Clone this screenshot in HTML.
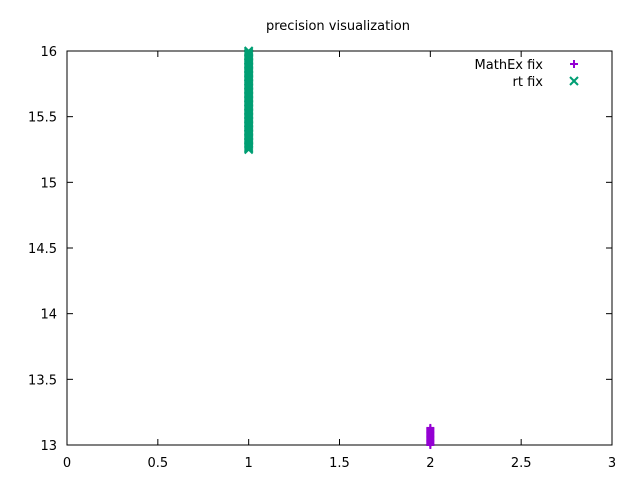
<!DOCTYPE html>
<html><head><meta charset="utf-8"><style>
body{margin:0;background:#fff;}
svg{display:block;font-family:"DejaVu Sans","Liberation Sans",sans-serif;font-size:13px;}
</style></head><body>
<svg id="chart" width="640" height="480" viewBox="0 0 640 480"></svg>
<script>
const xTicks=[0,0.5,1,1.5,2,2.5,3];
const yTicks=[13,13.5,14,14.5,15,15.5,16];
const mathexX=[2,2,2,2,2,2,2,2,2,2,2,2,2,2];
const mathexY=[13.0,13.01,13.02,13.03,13.04,13.05,13.06,13.07,13.08,13.09,13.1,13.11,13.12,13.13];
const rtY=[15.25,15.26,15.27,15.28,15.29,15.3,15.31,15.32,15.33,15.34,15.35,15.36,15.37,15.38,15.39,15.4,15.41,15.42,15.43,15.44,15.45,15.46,15.47,15.48,15.49,15.5,15.51,15.52,15.53,15.54,15.55,15.56,15.57,15.58,15.59,15.6,15.61,15.62,15.63,15.64,15.65,15.66,15.67,15.68,15.69,15.7,15.71,15.72,15.73,15.74,15.75,15.76,15.77,15.78,15.79,15.8,15.81,15.82,15.83,15.84,15.85,15.86,15.87,15.88,15.89,15.9,15.91,15.92,15.93,15.94,15.95,15.96,15.97,15.98,15.99,16.0];
const rtX=rtY.map(()=>1);
const L=67,R=612,T=51,B=445;
const sx=v=>L+(v-0)/(3-0)*(R-L);
const sy=v=>B-(v-13)/(16-13)*(B-T);
const svg=document.getElementById('chart');
const NS='http://www.w3.org/2000/svg';
function mk(tag,attrs,parent){const e=document.createElementNS(NS,tag);for(const k in attrs)e.setAttribute(k,attrs[k]);(parent||svg).appendChild(e);return e;}
let t=mk('text',{x:338,y:30,'text-anchor':'middle'});t.textContent='precision visualization';


xTicks.forEach(v=>{const x=sx(v);
 mk('line',{x1:x,y1:B,x2:x,y2:B-6,stroke:'#000'});mk('line',{x1:x,y1:T,x2:x,y2:T+6,stroke:'#000'});
 const tx=mk('text',{x:x,y:467,'text-anchor':'middle'});tx.textContent=v;
 
 });
yTicks.forEach(v=>{const y=sy(v);
 mk('line',{x1:L,y1:y,x2:L+6,y2:y,stroke:'#000'});mk('line',{x1:R,y1:y,x2:R-6,y2:y,stroke:'#000'});
 const tx=mk('text',{x:57,y:y+5,'text-anchor':'end'});tx.textContent=v;
 
 });
const frame=mk('rect',{x:L,y:T,width:R-L,height:B-T,fill:'none',stroke:'#000'});


const g1=mk('g',{stroke:'#9400d3','stroke-width':2});


mathexY.forEach((v,i)=>{const x=sx(mathexX[i]),y=sy(v);
 mk('line',{x1:x-4,y1:y,x2:x+4,y2:y},g1);mk('line',{x1:x,y1:y-4,x2:x,y2:y+4},g1);});
const g2=mk('g',{stroke:'#009e73','stroke-width':2});


rtY.forEach((v,i)=>{const x=sx(rtX[i]),y=sy(v);
 mk('line',{x1:x-4,y1:y-4,x2:x+4,y2:y+4},g2);mk('line',{x1:x-4,y1:y+4,x2:x+4,y2:y-4},g2);});
const lg=mk('g',{});


let l1=mk('text',{x:543,y:69,'text-anchor':'end'},lg);l1.textContent='MathEx fix';
const p=mk('g',{stroke:'#9400d3','stroke-width':2},lg);
mk('line',{x1:570,y1:64,x2:578,y2:64},p);mk('line',{x1:574,y1:60,x2:574,y2:68},p);
let l2=mk('text',{x:543,y:86,'text-anchor':'end'},lg);l2.textContent='rt fix';
const c=mk('g',{stroke:'#009e73','stroke-width':2},lg);
mk('line',{x1:570,y1:77,x2:578,y2:85},c);mk('line',{x1:570,y1:85,x2:578,y2:77},c);
</script>
</body></html>
